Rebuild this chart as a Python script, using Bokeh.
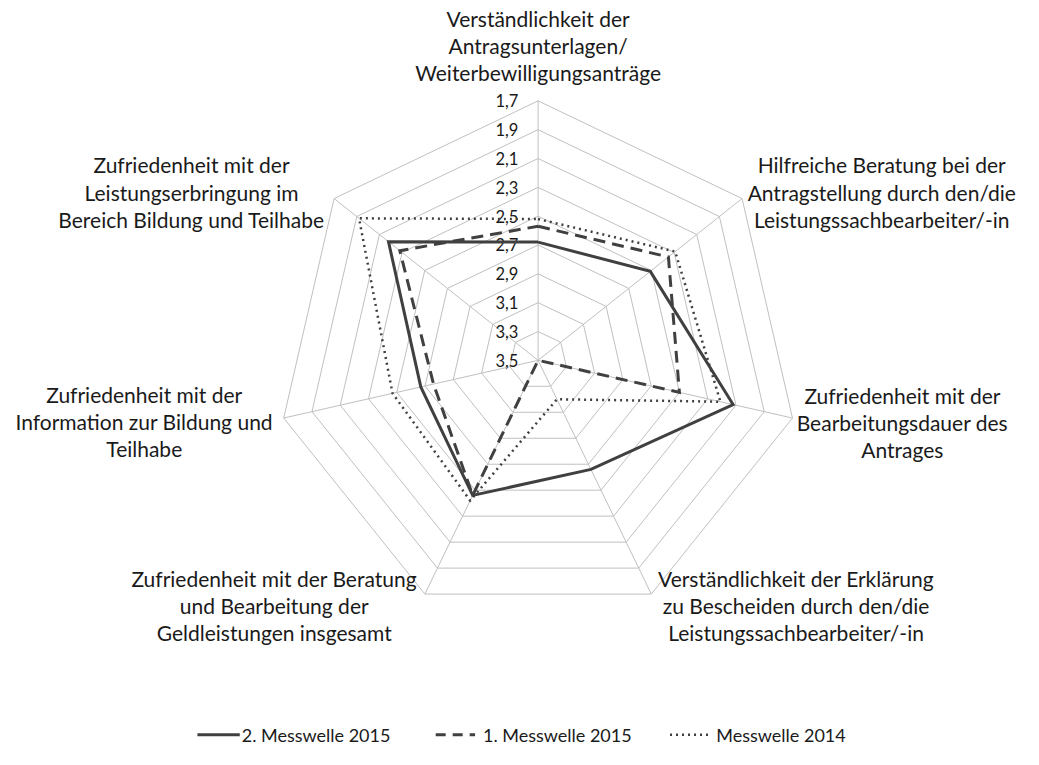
import numpy as np
from bokeh.plotting import figure
from bokeh.models import Range1d
from bokeh.core.properties import value
from bokeh.embed import file_html
from bokeh.resources import INLINE

# ---------------- data ----------------
categories = [
    ["Verständlichkeit der", "Antragsunterlagen/", "Weiterbewilligungsanträge"],
    ["Hilfreiche Beratung bei der", "Antragstellung durch den/die", "Leistungssachbearbeiter/-in"],
    ["Zufriedenheit mit der", "Bearbeitungsdauer des", "Antrages"],
    ["Verständlichkeit der Erklärung", "zu Bescheiden durch den/die", "Leistungssachbearbeiter/-in"],
    ["Zufriedenheit mit der Beratung", "und Bearbeitung der", "Geldleistungen insgesamt"],
    ["Zufriedenheit mit der", "Information zur Bildung und", "Teilhabe"],
    ["Zufriedenheit mit der", "Leistungserbringung im", "Bereich Bildung und Teilhabe"],
]
series_names = ["2. Messwelle 2015", "1. Messwelle 2015", "Messwelle 2014"]
welle2_2015 = [2.68, 2.51, 2.12, 2.66, 2.46, 2.67, 2.18]
welle1_2015 = [2.57, 2.35, 2.50, 3.50, 2.46, 2.76, 2.28]
welle_2014 = [2.52, 2.29, 2.21, 3.20, 2.42, 2.47, 1.92]
tick_values = [1.7, 1.9, 2.1, 2.3, 2.5, 2.7, 2.9, 3.1, 3.3, 3.5]
tick_labels = ["1,7", "1,9", "2,1", "2,3", "2,5", "2,7", "2,9", "3,1", "3,3", "3,5"]

# ---------------- layout / style ----------------
W, H = 1023, 749
CX, CY, R = 546.0, 367.5, 265.0
V_OUT, V_IN = 1.7, 3.5
FONT = value("Lato")
TXT = "#1a1a1a"
LINE = "#404040"
GRID = "#c0c0c0"

n = len(categories)
ang = np.array([2 * np.pi * k / n for k in range(n)])


def to_xy(vals):
    vals = np.asarray(vals, dtype=float)
    r = (V_IN - vals) / (V_IN - V_OUT) * R
    return CX + r * np.sin(ang), CY - r * np.cos(ang)


p = figure(width=W, height=H, x_range=Range1d(0, 1039), y_range=Range1d(765, 0),
           output_backend="svg", toolbar_location=None, min_border=0,
           x_axis_location=None, y_axis_location=None)
p.grid.visible = False
p.outline_line_color = None
p.background_fill_color = "white"
p.border_fill_color = "white"

# grid rings
for tv in tick_values[:-1]:
    gx, gy = to_xy([tv] * n)
    p.line(list(gx) + [gx[0]], list(gy) + [gy[0]], line_color=GRID, line_width=1)
# spokes
ox, oy = to_xy([V_OUT] * n)
cx0, cy0 = to_xy([V_IN] * n)
p.segment(x0=list(cx0), y0=list(cy0), x1=list(ox), y1=list(oy), line_color=GRID, line_width=1)

# tick labels on top spoke
tx, ty = [], []
for tv in tick_values:
    r = (V_IN - tv) / (V_IN - V_OUT) * R
    tx.append(CX - 20)
    ty.append(CY - r)
p.text(x=tx, y=ty, text=tick_labels, text_font=FONT, text_font_size="16.5px",
       text_align="right", text_baseline="middle", text_color=TXT)

# series
styles = [
    dict(line_dash="solid", line_width=3),
    dict(line_dash="12 7", line_width=3),
    dict(line_dash="2 4", line_width=2.5),
]
for vals, st in zip([welle2_2015, welle1_2015, welle_2014], styles):
    sx, sy = to_xy(vals)
    p.line(list(sx) + [sx[0]], list(sy) + [sy[0]], line_color=LINE, line_join="miter", **st)

# category labels (anchor positions of each three-line label block)
label_pos = [(546, 18), (895, 168), (916, 403), (808, 590), (278, 590), (146, 402), (194, 168)]
LH = 27.8
for lines, (lx, ly) in zip(categories, label_pos):
    p.text(x=[lx] * len(lines), y=[ly + i * LH for i in range(len(lines))], text=lines,
           text_font=FONT, text_font_size="21px", text_align="center",
           text_baseline="middle", text_color=TXT)

# legend
LY = 750
leg_lines = [(200, 243), (442, 482), (680, 720)]
leg_text_x = [245, 490, 727]
for (a, b), tx_, name, st in zip(leg_lines, leg_text_x, series_names, styles):
    st2 = dict(st)
    if st2["line_dash"] == "12 7":
        st2["line_dash"] = "10 7"
    p.line([a, b], [LY, LY], line_color=LINE, **st2)
    p.text(x=[tx_], y=[LY], text=[name], text_font=FONT, text_font_size="18px",
           text_align="left", text_baseline="middle", text_color=TXT)

open("out.html", "w").write(file_html(p, INLINE))
